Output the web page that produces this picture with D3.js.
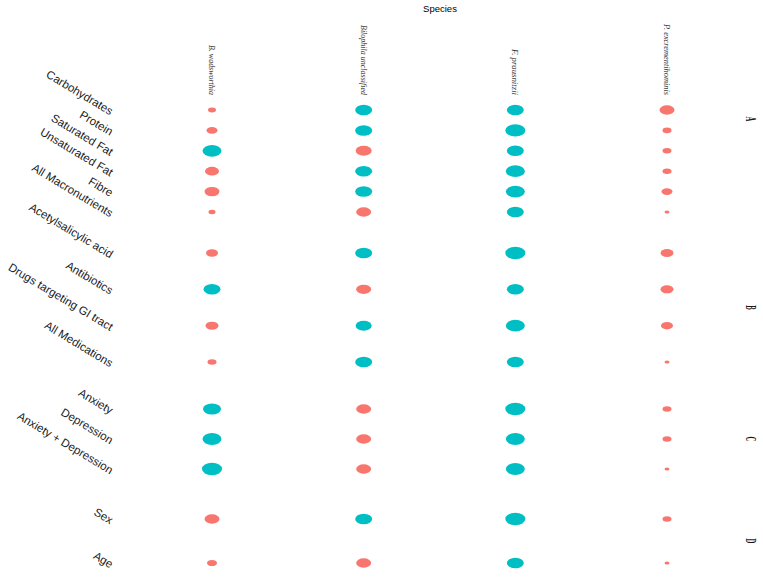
<!DOCTYPE html>
<html>
<head>
<meta charset="utf-8">
<script src="https://cdn.jsdelivr.net/npm/d3@7"></script>
<style>
  body { margin: 0; background: #fff; }
</style>
</head>
<body>
<svg id="chart"></svg>
<script>
// species along the top
const species = ["B. wadsworthia", "Bilophila unclassified", "F. prausnitzii", "P. excrementihominis"];

// row groups (facets)
const facetNames = ["A", "B", "C", "D"];
const rowsA = ["Carbohydrates", "Protein", "Saturated Fat", "Unsaturated Fat", "Fibre", "All Macronutrients"];
const rowsB = ["Acetylsalicylic acid", "Antibiotics", "Drugs targeting GI tract", "All Medications"];
const rowsC = ["Anxiety", "Depression", "Anxiety + Depression"];
const rowsD = ["Sex", "Age"];

// signed effect per species, in row order A..D (sign = direction, size = magnitude)
const wadsworthia = [-0.40, -0.55, 0.95, -0.70, -0.75, -0.35, -0.60, 0.85, -0.65, -0.45, 0.90, 0.95, 1.00, -0.75, -0.50];
const bilophila   = [0.85, 0.85, -0.80, 0.85, 0.85, -0.75, 0.85, -0.75, 0.80, 0.85, -0.75, -0.75, -0.75, 0.85, -0.75];
const prausnitzii = [0.85, 1.00, 0.85, 0.95, 0.95, 0.85, 1.00, 0.85, 0.95, 0.85, 1.00, 0.95, 0.95, 1.00, 0.85];
const excrementi  = [-0.75, -0.45, -0.45, -0.45, -0.55, -0.25, -0.65, -0.65, -0.60, -0.25, -0.45, -0.45, -0.25, -0.45, -0.25];

const width = 763;
const height = 583;

const svg = d3.select("#chart")
    .attr("width", width)
    .attr("height", height)
    .style("font-family", "'Liberation Sans', Arial, sans-serif");

const groups = [rowsA, rowsB, rowsC, rowsD];
const seriesVals = [wadsworthia, bilophila, prausnitzii, excrementi];

// x scale for species columns
const x = d3.scalePoint().domain(species).range([212, 667]);

// one y scale per facet panel
const panelRanges = [[110, 212], [253, 362], [409, 469], [519, 563]];
const yScales = groups.map((rows, i) => d3.scalePoint().domain(rows).range(panelRanges[i]));

// dot width from magnitude; dots are drawn squashed like the original
const w = d3.scaleLinear().domain([0, 1]).range([0, 20]);
const color = v => v > 0 ? "#00BFC4" : "#F8766D";

// build the long table
const table = [];
let k = 0;
groups.forEach((rows, gi) => {
  rows.forEach(r => {
    species.forEach((s, si) => {
      table.push({ facet: gi, row: r, species: s, value: seriesVals[si][k] });
    });
    k++;
  });
});

// title
svg.append("text")
   .attr("x", 440)
   .attr("y", 12)
   .attr("text-anchor", "middle")
   .style("font-size", "9.5px")
   .text("Species");

// species labels, rotated, compressed serif
const labelLen = { "B. wadsworthia": 50, "Bilophila unclassified": 70, "F. prausnitzii": 46, "P. excrementihominis": 71 };
svg.append("g").selectAll("text")
   .data(species)
   .enter()
   .append("text")
   .attr("transform", d => `translate(${x(d)},95) rotate(90)`)
   .attr("text-anchor", "end")
   .attr("dy", "0.35em")
   .attr("textLength", d => labelLen[d])
   .attr("lengthAdjust", "spacingAndGlyphs")
   .style("font-family", "'Liberation Serif', 'DejaVu Serif', serif")
   .style("font-style", "italic")
   .style("font-size", "9px")
   .style("fill", "#333")
   .text(d => d);

// row labels on the left, slanted
groups.forEach((rows, gi) => {
  svg.append("g").selectAll("text")
     .data(rows)
     .enter()
     .append("text")
     .attr("transform", d => `translate(112,${yScales[gi](d) + 2}) rotate(31)`)
     .attr("text-anchor", "end")
     .attr("dy", "0.35em")
     .style("font-size", "11.5px")
     .style("fill", "#1a1a1a")
     .text(d => d);
});

// facet strip labels on the right
svg.append("g").selectAll("text")
   .data(facetNames)
   .enter()
   .append("text")
   .attr("transform", (d, i) => {
     const r = panelRanges[i];
     const cy = i === 0 ? r[0] + 9 : (r[0] + r[1]) / 2;
     return `translate(751,${cy}) rotate(90) scale(0.45,1)`;
   })
   .attr("text-anchor", "middle")
   .attr("dy", "0.35em")
   .style("font-family", "'Liberation Serif', 'DejaVu Serif', serif")
   .style("font-size", "15px")
   .style("font-weight", "bold")
   .style("fill", "#1a1a1a")
   .text(d => d);

// dots
svg.append("g").selectAll("ellipse")
   .data(table)
   .enter()
   .append("ellipse")
   .attr("cx", d => x(d.species))
   .attr("cy", d => yScales[d.facet](d.row))
   .attr("rx", d => w(Math.abs(d.value)) / 2)
   .attr("ry", d => w(Math.abs(d.value)) * 0.31)
   .attr("fill", d => color(d.value));
</script>
</body>
</html>
